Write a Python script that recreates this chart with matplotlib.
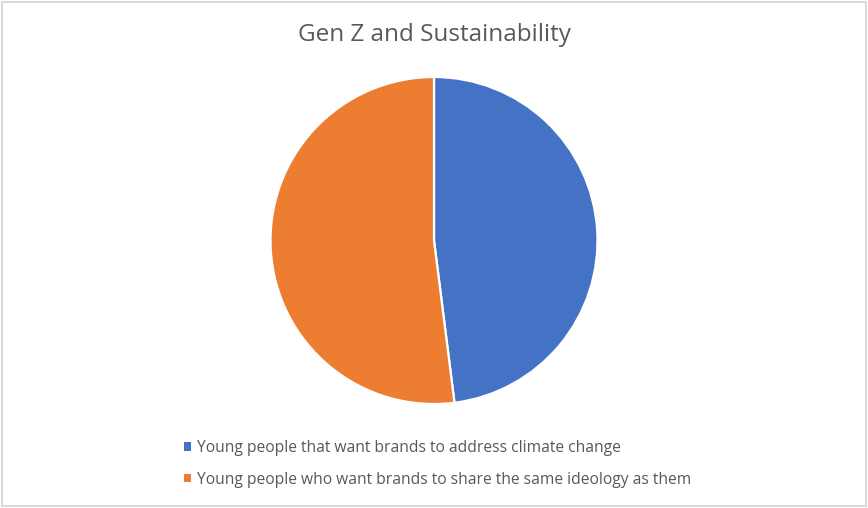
import matplotlib
matplotlib.use("Agg")
import matplotlib.pyplot as plt
from matplotlib.patches import Rectangle

title = "Gen Z and Sustainability"
labels = ["Young people that want brands to address climate change",
          "Young people who want brands to share the same ideology as them"]
values = [48, 52]
colors = ["#4472C4", "#ED7D31"]

W, H = 868, 508
fig = plt.figure(figsize=(W / 100, H / 100), dpi=100)
fig.patch.set_facecolor("white")
fig.patches.append(Rectangle((1.5 / W, 2.5 / H), 1 - 3.5 / W, 1 - 4.0 / H, transform=fig.transFigure,
                             fill=False, edgecolor="#D9D9D9", linewidth=1.5))

cx, cy, r = 434, 508 - 240.5, 163.5
half = 175
ax = fig.add_axes([(cx - half) / W, (cy - half) / H, 2 * half / W, 2 * half / H])
wedges, _ = ax.pie(values, colors=colors, startangle=90, counterclock=False,
                   wedgeprops=dict(edgecolor="white", linewidth=1.6))
lim = half / r
ax.set_xlim(-lim, lim)
ax.set_ylim(-lim, lim)
ax.set_aspect("equal")
ax.axis("off")

fig.text(434 / W, 1 - 35 / H, title, ha="center", va="center",
         fontsize=17.5, color="#595959", family="Open Sans")

leg = fig.legend(wedges, labels, loc="upper left", bbox_to_anchor=(170 / W, 1 - 426 / H),
                 frameon=False, handlelength=0.45, handleheight=0.45,
                 handletextpad=0.4, labelspacing=1.0,
                 prop=dict(family="Open Sans", size=11.25))
for t in leg.get_texts():
    t.set_color("#595959")
for h in leg.legend_handles:
    h.set_edgecolor("none")

fig.savefig("out.png", dpi=100)
